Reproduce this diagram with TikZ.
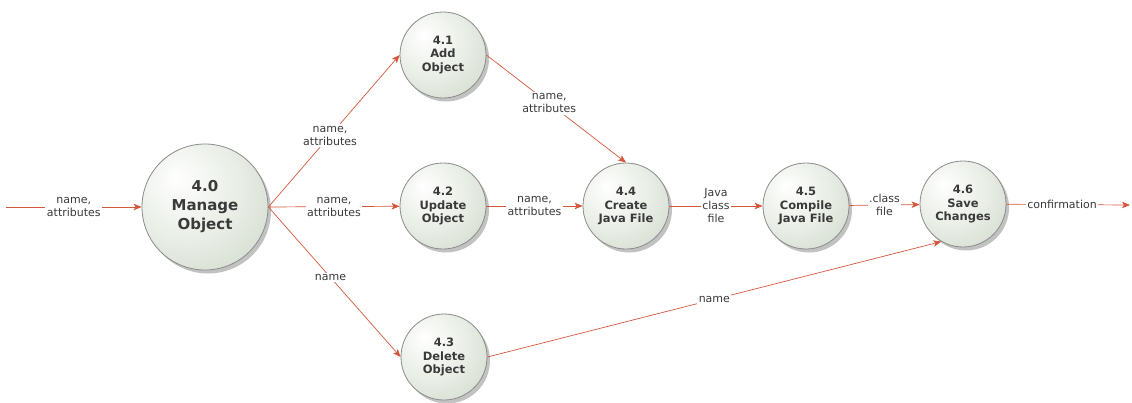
\documentclass[tikz,border=0pt]{standalone}
\usepackage{fontspec}
\setmainfont{DejaVu Sans}
\usetikzlibrary{arrows.meta,shadows}
\definecolor{flowred}{HTML}{D4573C}
\definecolor{bubblemid}{HTML}{E8EDE5}
\definecolor{bubbleedge}{HTML}{C6D0C1}
\definecolor{bubbleline}{HTML}{8C8C8C}
\definecolor{inktext}{HTML}{3A3A3A}
\pgfdeclareradialshading{bubble}{\pgfpoint{-12bp}{12bp}}{%
  color(0bp)=(white); color(22bp)=(bubblemid); color(48bp)=(bubbleedge); color(62bp)=(bubbleedge)}

\begin{document}
\begin{tikzpicture}[x=1pt,y=-1pt,
  process/.style={circle,draw=bubbleline,line width=0.8pt,shading=bubble,
    drop shadow={shadow xshift=3pt,shadow yshift=-3.5pt,opacity=0.4,fill=black!60},
    minimum size=86pt,inner sep=0pt,align=center,text=inktext,
    font=\fontsize{11.5}{13.5}\selectfont\bfseries},
  bigprocess/.style={process,minimum size=126pt,font=\fontsize{15}{19}\selectfont\bfseries},
  flow/.style={draw=flowred,line width=0.7pt,-{Stealth[length=8pt,width=6.5pt,inset=2pt]}},
  flowtext/.style={fill=white,inner sep=1.5pt,align=center,text=inktext,
    font=\fontsize{11}{13}\selectfont}]
\useasboundingbox (0,0) rectangle (1132,402);

\coordinate (in) at (6,207);
\coordinate (out) at (1130,205);

\node[bigprocess] (M) at (205,207) {4.0\\Manage\\Object};

\node[process] (A) at (443,55) {4.1\\Add\\Object};
\node[process] (U) at (443,206) {4.2\\Update\\Object};
\node[process] (D) at (444,357) {4.3\\Delete\\Object};

\node[process] (C) at (626,206) {4.4\\Create\\Java File};
\node[process] (P) at (806,206) {4.5\\Compile\\Java File};
\node[process] (S) at (963,204) {4.6\\Save\\Changes};

\draw[flow] (in) -- node[flowtext] {name,\\attributes} (M);
\draw[flow] (M.east) -- node[flowtext,pos=0.47] {name,\\attributes} (A.west);
\draw[flow] (M.east) -- node[flowtext] {name,\\attributes} (U);
\draw[flow] (M.east) -- node[flowtext,pos=0.47] {name} (D.west);
\draw[flow] (A.east) -- node[flowtext,pos=0.45] {name,\\attributes} (C.north);
\draw[flow] (U) -- node[flowtext] {name,\\attributes} (C);
\draw[flow] (C) -- node[flowtext] {Java\\class\\file} (P);
\draw[flow] (P) -- node[flowtext] {.class\\file} (S);
\draw[flow] (D.east) -- node[flowtext] {name} (S.-120);
\draw[flow] (S) -- node[flowtext,pos=0.45] {confirmation} (out);
\end{tikzpicture}
\end{document}
